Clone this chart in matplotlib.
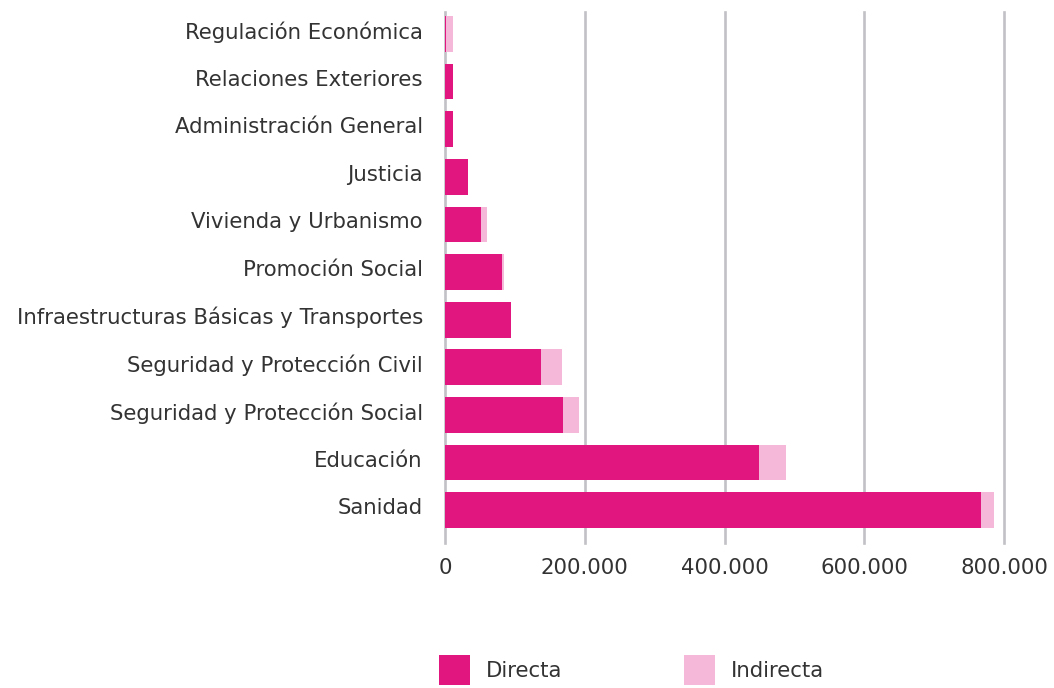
import numpy as np
import matplotlib.pyplot as plt
import matplotlib.transforms as mtransforms
from matplotlib.ticker import FuncFormatter

plt.rcParams['font.family'] = ['DejaVu Sans']

categorias = ["Sanidad", "Educación", "Seguridad y Protección Social",
              "Seguridad y Protección Civil", "Infraestructuras Básicas y Transportes",
              "Promoción Social", "Vivienda y Urbanismo", "Justicia",
              "Administración General", "Relaciones Exteriores", "Regulación Económica"]
directa = [767000, 450000, 169500, 137500, 94500, 81000, 52000, 33300, 11600, 11600, 1000]
indirecta = [18500, 37500, 22500, 30000, 0, 3800, 8700, 0, 0, 0, 10600]

col_dir = "#E1177F"
col_ind = "#F5B8D8"
texto = "#333333"
tam = 15.3

fig = plt.figure(figsize=(10.54, 6.88), dpi=100)
ax = fig.add_axes([445 / 1054, 1 - 543 / 688, (1004 - 445) / 1054, (543 - 12) / 688])

y = np.arange(len(categorias))
ax.barh(y, directa, height=0.75, color=col_dir, label="Directa", zorder=3)
ax.barh(y, indirecta, left=directa, height=0.75, color=col_ind, label="Indirecta", zorder=3)

ax.set_xlim(0, 800000)
ax.set_ylim(-0.69, 10.46)
ax.set_xticks([0, 200000, 400000, 600000, 800000])
ax.xaxis.set_major_formatter(FuncFormatter(lambda v, p: f"{int(v):,}".replace(",", ".")))
ax.set_yticks(y)
ax.set_yticklabels(categorias)

ax.grid(axis="x", color="#C2C2C6", linewidth=1.9, zorder=0)
ax.set_axisbelow(True)
for gl in ax.get_xgridlines():
    gl.set_clip_on(False)
for s in ax.spines.values():
    s.set_visible(False)
ax.tick_params(axis="both", length=0, labelsize=tam, labelcolor=texto)
ax.tick_params(axis="y", pad=16)
ax.tick_params(axis="x", pad=11)

# etiquetas un poco más arriba, como en el original
subir = mtransforms.ScaledTranslation(0, 4 / 100, fig.dpi_scale_trans)
for lab in ax.get_yticklabels():
    lab.set_transform(lab.get_transform() + subir)

fig.legend(loc="center", bbox_to_anchor=(0.599, 0.026), ncol=2, frameon=False,
           fontsize=tam, labelcolor=texto, handlelength=1.45, handleheight=1.85,
           handletextpad=0.75, columnspacing=5.75, borderpad=0)

fig.savefig("out.png", dpi=100)
